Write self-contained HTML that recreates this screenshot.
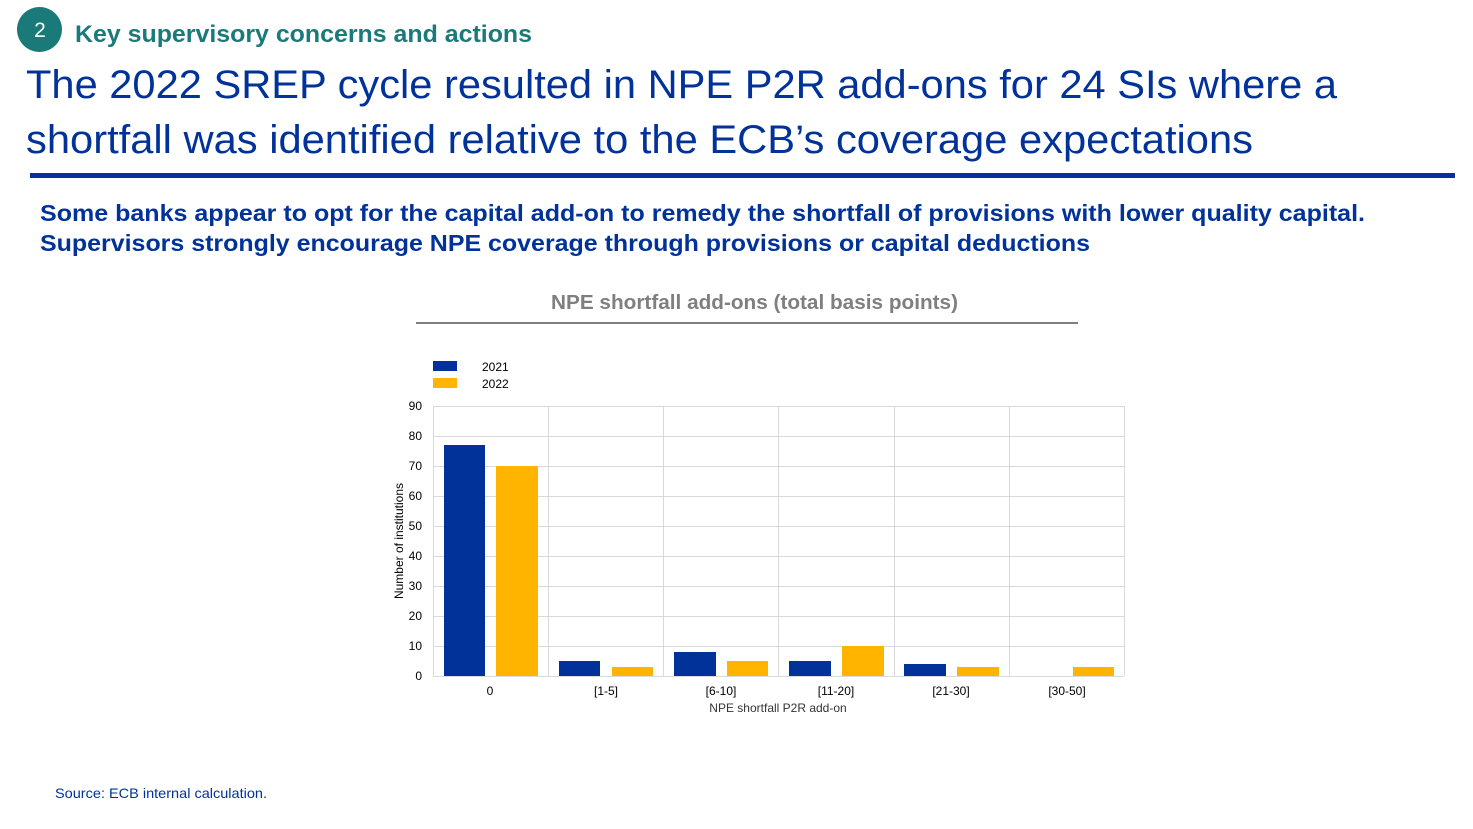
<!DOCTYPE html>
<html><head><meta charset="utf-8"><style>
html,body{margin:0;padding:0;background:#fff;}
svg{display:block;font-family:"Liberation Sans",Arial,sans-serif;}
</style></head><body>
<svg width="1473" height="829" viewBox="0 0 1473 829" xmlns="http://www.w3.org/2000/svg">
<circle cx="39.5" cy="29.5" r="22.5" fill="#1a7a7a"/>
<text x="40" y="37" font-size="21" fill="#fff" text-anchor="middle">2</text>
<text x="75" y="42" font-size="24" font-weight="bold" fill="#1a7a7a" textLength="457" lengthAdjust="spacingAndGlyphs">Key supervisory concerns and actions</text>
<text x="26" y="98" font-size="40" fill="#003299" textLength="1311" lengthAdjust="spacingAndGlyphs">The 2022 SREP cycle resulted in NPE P2R add-ons for 24 SIs where a</text>
<text x="26" y="153" font-size="40" fill="#003299" textLength="1227" lengthAdjust="spacingAndGlyphs">shortfall was identified relative to the ECB’s coverage expectations</text>
<rect x="30" y="173" width="1425" height="5" fill="#003299"/>
<text x="40" y="221" font-size="23" font-weight="bold" fill="#003299" textLength="1325" lengthAdjust="spacingAndGlyphs">Some banks appear to opt for the capital add-on to remedy the shortfall of provisions with lower quality capital.</text>
<text x="40" y="251" font-size="23" font-weight="bold" fill="#003299" textLength="1050" lengthAdjust="spacingAndGlyphs">Supervisors strongly encourage NPE coverage through provisions or capital deductions</text>
<text x="551" y="309" font-size="20" font-weight="bold" fill="#7f7f7f" textLength="407" lengthAdjust="spacingAndGlyphs">NPE shortfall add-ons (total basis points)</text>
<rect x="416" y="322" width="662" height="2" fill="#7f7f7f"/>
<rect x="433" y="361" width="24" height="10" fill="#003299"/>
<rect x="433" y="378" width="24" height="10" fill="#ffb400"/>
<text x="482" y="371" font-size="12">2021</text>
<text x="482" y="388" font-size="12">2022</text>
<g stroke="#d9d9d9" stroke-width="1">
<line x1="433" y1="406.5" x2="1124" y2="406.5"/><line x1="433" y1="436.5" x2="1124" y2="436.5"/>
<line x1="433" y1="466.5" x2="1124" y2="466.5"/><line x1="433" y1="496.5" x2="1124" y2="496.5"/>
<line x1="433" y1="526.5" x2="1124" y2="526.5"/><line x1="433" y1="556.5" x2="1124" y2="556.5"/>
<line x1="433" y1="586.5" x2="1124" y2="586.5"/><line x1="433" y1="616.5" x2="1124" y2="616.5"/>
<line x1="433" y1="646.5" x2="1124" y2="646.5"/><line x1="433" y1="676.5" x2="1124" y2="676.5"/>
<line x1="433.5" y1="406" x2="433.5" y2="676"/><line x1="548.5" y1="406" x2="548.5" y2="676"/>
<line x1="663.5" y1="406" x2="663.5" y2="676"/><line x1="778.5" y1="406" x2="778.5" y2="676"/>
<line x1="894.5" y1="406" x2="894.5" y2="676"/><line x1="1009.5" y1="406" x2="1009.5" y2="676"/>
<line x1="1124.5" y1="406" x2="1124.5" y2="676"/>
</g>
<g font-size="12" text-anchor="end" fill="#000">
<text x="422" y="410">90</text><text x="422" y="440">80</text><text x="422" y="470">70</text>
<text x="422" y="500">60</text><text x="422" y="530">50</text><text x="422" y="560">40</text>
<text x="422" y="590">30</text><text x="422" y="620">20</text><text x="422" y="650">10</text>
<text x="422" y="680">0</text>
</g>
<text transform="translate(403,541) rotate(-90)" font-size="12" text-anchor="middle">Number of institutions</text>
<g fill="#003299">
<rect x="444" y="445" width="41" height="231"/>
<rect x="559" y="661" width="41" height="15"/>
<rect x="674" y="652" width="42" height="24"/>
<rect x="789" y="661" width="42" height="15"/>
<rect x="904" y="664" width="42" height="12"/>
</g>
<g fill="#ffb400">
<rect x="496" y="466" width="42" height="210"/>
<rect x="612" y="667" width="41" height="9"/>
<rect x="727" y="661" width="41" height="15"/>
<rect x="842" y="646" width="42" height="30"/>
<rect x="957" y="667" width="42" height="9"/>
<rect x="1073" y="667" width="41" height="9"/>
</g>
<g font-size="12" text-anchor="middle">
<text x="490" y="695">0</text><text x="606" y="695">[1-5]</text><text x="721" y="695">[6-10]</text>
<text x="836" y="695">[11-20]</text><text x="951" y="695">[21-30]</text><text x="1067" y="695">[30-50]</text>
</g>
<text x="778" y="712" font-size="12" text-anchor="middle" fill="#333">NPE shortfall P2R add-on</text>
<text x="55" y="798" font-size="14" fill="#003299" textLength="212" lengthAdjust="spacingAndGlyphs">Source: ECB internal calculation.</text>
</svg>
</body></html>
